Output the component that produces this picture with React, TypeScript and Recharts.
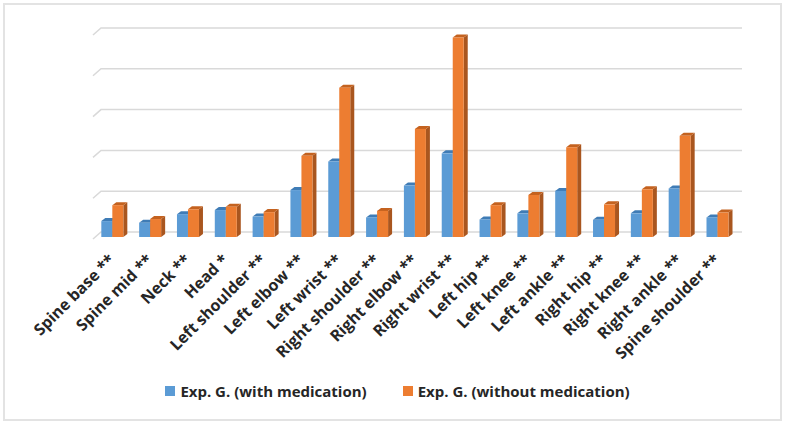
import { BarChart, Bar, XAxis, YAxis, CartesianGrid, Legend } from 'recharts'

const joints = [
  'Spine base **',
  'Spine mid **',
  'Neck **',
  'Head *',
  'Left shoulder **',
  'Left elbow **',
  'Left wrist **',
  'Right shoulder **',
  'Right elbow **',
  'Right wrist **',
  'Left hip **',
  'Left knee **',
  'Left ankle **',
  'Right hip **',
  'Right knee **',
  'Right ankle **',
  'Spine shoulder **',
]

const withMedication = [0.39, 0.35, 0.56, 0.66, 0.5, 1.15, 1.85, 0.48, 1.26, 2.05, 0.43, 0.58, 1.13, 0.42, 0.58, 1.19, 0.48]
const withoutMedication = [0.78, 0.44, 0.68, 0.74, 0.61, 1.99, 3.66, 0.64, 2.65, 4.89, 0.78, 1.03, 2.2, 0.8, 1.17, 2.48, 0.6]
const yTicks = [0, 1, 2, 3, 4, 5]

const BLUE = '#5b9bd5'
const ORANGE = '#ed7d31'
const TEXT = '#262626'
const FONT = '"Open Sans", sans-serif'

const chartData = joints.map((name, i) => ({
  name,
  with: withMedication[i],
  without: withoutMedication[i],
}))

// front face + top + right side, a cheap version of Excel's 3D column
function Box3D(props: any) {
  const { x, y, width, height, fill, side, top } = props
  if (!height || height <= 0) return null
  const dx = 4
  const dy = 3
  return (
    <g>
      <path
        d={`M${x + width},${y} L${x + width + dx},${y - dy} L${x + width + dx},${y + height - dy} L${x + width},${y + height} Z`}
        fill={side}
      />
      <path d={`M${x},${y} L${x + dx},${y - dy} L${x + width + dx},${y - dy} L${x + width},${y} Z`} fill={top} />
      <rect x={x} y={y} width={width} height={height} fill={fill} />
    </g>
  )
}

function JointTick({ x, y, payload }: any) {
  const ax = x + 4
  const ay = y + 16
  return (
    <text
      x={ax}
      y={ay}
      transform={`rotate(-45, ${ax}, ${ay})`}
      textAnchor="end"
      fill={TEXT}
      fontFamily={FONT}
      fontWeight="bold"
      fontSize={16}
    >
      {payload.value}
    </text>
  )
}

function BackGridLine(p: any) {
  return (
    <path
      key={p.key}
      d={`M${p.x1},${p.y1 + 2} L${p.x1 + 8},${p.y1 - 5} L${p.x2 + 6},${p.y1 - 5}`}
      stroke="#d9d9d9"
      strokeWidth={1.5}
      fill="none"
    />
  )
}

function LegendBox() {
  const items = [
    { label: 'Exp. G. (with medication)', color: BLUE },
    { label: 'Exp. G. (without medication)', color: ORANGE },
  ]
  return (
    <div
      style={{
        display: 'flex',
        justifyContent: 'center',
        gap: 36,
        height: 24,
        lineHeight: '24px',
        paddingRight: 34,
        fontFamily: FONT,
        fontWeight: 'bold',
        fontSize: 15,
        color: TEXT,
      }}
    >
      {items.map((it) => (
        <span key={it.label} style={{ display: 'flex', alignItems: 'center' }}>
          <span style={{ width: 10, height: 10, background: it.color, marginRight: 5 }} />
          {it.label}
        </span>
      ))}
    </div>
  )
}

export default function App() {
  return (
    <div style={{ position: 'absolute', left: 0, top: 0, width: 785, height: 425, background: '#fff' }}>
      <div
        style={{
          position: 'absolute',
          left: 3,
          top: 3,
          width: 775,
          height: 414,
          border: '2px solid #e3e3e3',
        }}
      />
      <BarChart
        width={785}
        height={425}
        data={chartData}
        margin={{ top: 33, right: 49, left: 93, bottom: 22 }}
        barGap={0}
        barCategoryGap="22%"
      >
        <CartesianGrid vertical={false} horizontal={BackGridLine} />
        <XAxis
          dataKey="name"
          interval={0}
          axisLine={false}
          tickLine={false}
          height={142}
          tick={<JointTick />}
        />
        <YAxis hide domain={[0, 5]} ticks={yTicks} />
        <Legend verticalAlign="bottom" content={<LegendBox />} />
        <Bar
          dataKey="with"
          name="Exp. G. (with medication)"
          fill={BLUE}
          shape={(p: any) => <Box3D {...p} side="#41719c" top="#3f7cb6" />}
          isAnimationActive={false}
        />
        <Bar
          dataKey="without"
          name="Exp. G. (without medication)"
          fill={ORANGE}
          shape={(p: any) => <Box3D {...p} side="#a9561f" top="#c4621f" />}
          isAnimationActive={false}
        />
      </BarChart>
    </div>
  )
}
